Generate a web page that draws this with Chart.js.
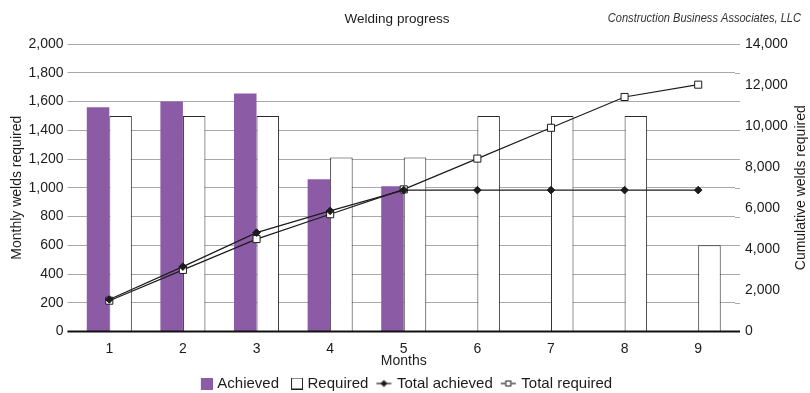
<!DOCTYPE html>
<html>
<head>
<meta charset="utf-8">
<script src="https://cdn.jsdelivr.net/npm/chart.js@4/dist/chart.umd.min.js"></script>
<style>
  html, body { margin: 0; padding: 0; background: #ffffff; }
  #wrap { position: relative; width: 810px; height: 393px; }
</style>
</head>
<body>
<div id="wrap"><canvas id="chart" width="810" height="393"></canvas></div>
<script>
// Months of the welding programme
const months = ['1', '2', '3', '4', '5', '6', '7', '8', '9'];
// Welds completed each month (no data yet after month 5)
const achieved = [1560, 1600, 1655, 1060, 1010, null, null, null, null];
// Welds planned each month
const required = [1500, 1500, 1500, 1210, 1210, 1500, 1500, 1500, 600];
// Running totals
const totalAchieved = [1560, 3160, 4815, 5875, 6885, 6885, 6885, 6885, 6885];
const totalRequired = [1500, 3000, 4500, 5710, 6920, 8420, 9920, 11420, 12020];

const PURPLE = '#8B5BA5';
const INK = '#1c1c1c';
const GRID = '#A9A9A9';
const FONT = "'Liberation Sans', Arial, sans-serif";

Chart.defaults.font.family = FONT;
Chart.defaults.font.size = 14;
Chart.defaults.color = INK;

// Small canvases used as legend symbols (18px wide, symbol kept to the right)
function icon(w, h, draw) {
  const c = document.createElement('canvas');
  c.width = w; c.height = h;
  draw(c.getContext('2d'));
  return c;
}
const iconAchieved = icon(18, 12, g => { g.fillStyle = PURPLE; g.fillRect(6, 0, 12, 12); });
const iconRequired = icon(18, 12, g => {
  g.fillStyle = '#fff'; g.fillRect(6, 0, 12, 12);
  g.strokeStyle = INK; g.lineWidth = 1; g.strokeRect(6.5, 0.5, 11, 11);
});
const iconTotalAchieved = icon(18, 10, g => {
  g.strokeStyle = INK; g.lineWidth = 1.2;
  g.beginPath(); g.moveTo(2, 5); g.lineTo(17, 5); g.stroke();
  g.fillStyle = INK;
  g.beginPath(); g.moveTo(9.5, 1.5); g.lineTo(13, 5); g.lineTo(9.5, 8.5); g.lineTo(6, 5); g.closePath(); g.fill();
});
const iconTotalRequired = icon(18, 10, g => {
  g.strokeStyle = INK; g.lineWidth = 1.2;
  g.beginPath(); g.moveTo(2, 5); g.lineTo(17, 5); g.stroke();
  g.fillStyle = '#fff'; g.fillRect(6.5, 2, 6, 6);
  g.lineWidth = 1; g.strokeRect(7, 2.5, 5, 5);
});
const legendIcons = [iconAchieved, iconRequired, iconTotalAchieved, iconTotalRequired];

// Titles, attribution, right axis title and gridline stubs
const decor = {
  id: 'decor',
  beforeDatasetsDraw(chart) {
    const {ctx, chartArea, scales: {y}} = chart;
    ctx.save();
    ctx.strokeStyle = GRID;
    ctx.lineWidth = 1;
    y.ticks.forEach(t => {
      if (t.value === 0) return;
      const py = Math.round(y.getPixelForValue(t.value)) + 0.5;
      ctx.beginPath();
      ctx.moveTo(chartArea.right, py);
      ctx.lineTo(chartArea.right + 5, py);
      ctx.stroke();
    });
    ctx.restore();
  },
  afterDatasetsDraw(chart) {
    const {ctx, chartArea, scales: {y}} = chart;
    const py = y.getPixelForValue(0);
    ctx.save();
    ctx.strokeStyle = '#111';
    ctx.lineWidth = 2.2;
    ctx.beginPath();
    ctx.moveTo(chartArea.left - 5, py);
    ctx.lineTo(chartArea.right + 5, py);
    ctx.stroke();
    ctx.restore();
  },
  afterDraw(chart) {
    const {ctx, chartArea} = chart;
    ctx.save();
    ctx.fillStyle = INK;
    ctx.textBaseline = 'middle';
    ctx.font = '13.5px ' + FONT;
    ctx.textAlign = 'center';
    ctx.fillText('Welding progress', 397, 19);
    ctx.restore();

    // attribution, set in a condensed italic
    ctx.save();
    ctx.fillStyle = '#333';
    ctx.textBaseline = 'middle';
    ctx.textAlign = 'right';
    ctx.font = 'italic 13.5px ' + FONT;
    ctx.translate(801, 18);
    ctx.scale(0.82, 1);
    ctx.fillText('Construction Business Associates, LLC', 0, 0);
    ctx.restore();

    ctx.save();
    ctx.fillStyle = INK;
    ctx.textBaseline = 'middle';
    ctx.font = '14px ' + FONT;
    ctx.translate(801, (chartArea.top + chartArea.bottom) / 2);
    ctx.rotate(-Math.PI / 2);
    ctx.textAlign = 'center';
    ctx.fillText('Cumulative welds required', 0, 0);
    ctx.restore();
  }
};

const fmt = v => Number(v).toLocaleString('en-US');

new Chart(document.getElementById('chart'), {
  data: {
    labels: months,
    datasets: [
      {
        type: 'bar', label: 'Achieved', data: achieved, yAxisID: 'y',
        backgroundColor: PURPLE, borderWidth: 0, order: 2,
        categoryPercentage: 0.612, barPercentage: 1.0
      },
      {
        type: 'bar', label: 'Required', data: required, yAxisID: 'y',
        backgroundColor: '#ffffff', borderColor: '#2a2a2a', borderWidth: 1, order: 2,
        categoryPercentage: 0.612, barPercentage: 1.0
      },
      {
        type: 'line', label: 'Total achieved', data: totalAchieved, yAxisID: 'y2',
        borderColor: INK, borderWidth: 1.2, backgroundColor: INK,
        pointStyle: 'rectRot', pointRadius: 3.8, pointBackgroundColor: INK,
        pointBorderColor: INK, pointBorderWidth: 1, tension: 0, order: 0
      },
      {
        type: 'line', label: 'Total required', data: totalRequired, yAxisID: 'y2',
        borderColor: INK, borderWidth: 1.2, backgroundColor: '#fff',
        pointStyle: 'rect', pointRadius: 5, pointBackgroundColor: '#ffffff',
        pointBorderColor: INK, pointBorderWidth: 1, tension: 0, order: 1
      }
    ]
  },
  options: {
    responsive: false,
    animation: false,
    layout: { padding: { top: 44, left: 0, right: 0, bottom: -8 } },
    plugins: {
      title: { display: false },
      tooltip: { enabled: false },
      legend: {
        position: 'bottom',
        labels: {
          usePointStyle: true,
          pointStyleWidth: 12,
          padding: 9,
          font: { size: 15 },
          color: INK,
          sort: (a, b) => a.datasetIndex - b.datasetIndex,
          generateLabels(chart) {
            const items = Chart.defaults.plugins.legend.labels.generateLabels(chart);
            items.forEach(it => { it.pointStyle = legendIcons[it.datasetIndex]; });
            return items;
          }
        }
      }
    },
    scales: {
      x: {
        offset: true,
        grid: { display: false, drawTicks: false },
        border: { display: false },
        ticks: { padding: 9, font: { size: 14 }, color: INK },
        title: { display: true, text: 'Months', font: { size: 14 }, color: INK, padding: { top: 0, bottom: -3 } },
        afterFit(s) { s.height = 35.5; }
      },
      y: {
        position: 'left',
        min: 0, max: 2000,
        ticks: { stepSize: 200, callback: fmt, padding: 4, font: { size: 14 }, color: INK },
        grid: {
          color: GRID, lineWidth: 1, tickLength: 5, drawTicks: true,
          tickColor: GRID
        },
        border: { display: false },
        title: { display: true, text: 'Monthly welds required', font: { size: 14 }, color: INK, padding: { top: 9, bottom: 0 } },
        afterFit(s) { s.width = 72.5; }
      },
      y2: {
        position: 'right',
        min: 0, max: 14000,
        ticks: { stepSize: 2000, callback: fmt, padding: 10, font: { size: 14 }, color: INK },
        grid: { display: false, drawTicks: false },
        border: { display: false },
        afterFit(s) { s.width = 75; }
      }
    }
  },
  plugins: [decor]
});
</script>
</body>
</html>
